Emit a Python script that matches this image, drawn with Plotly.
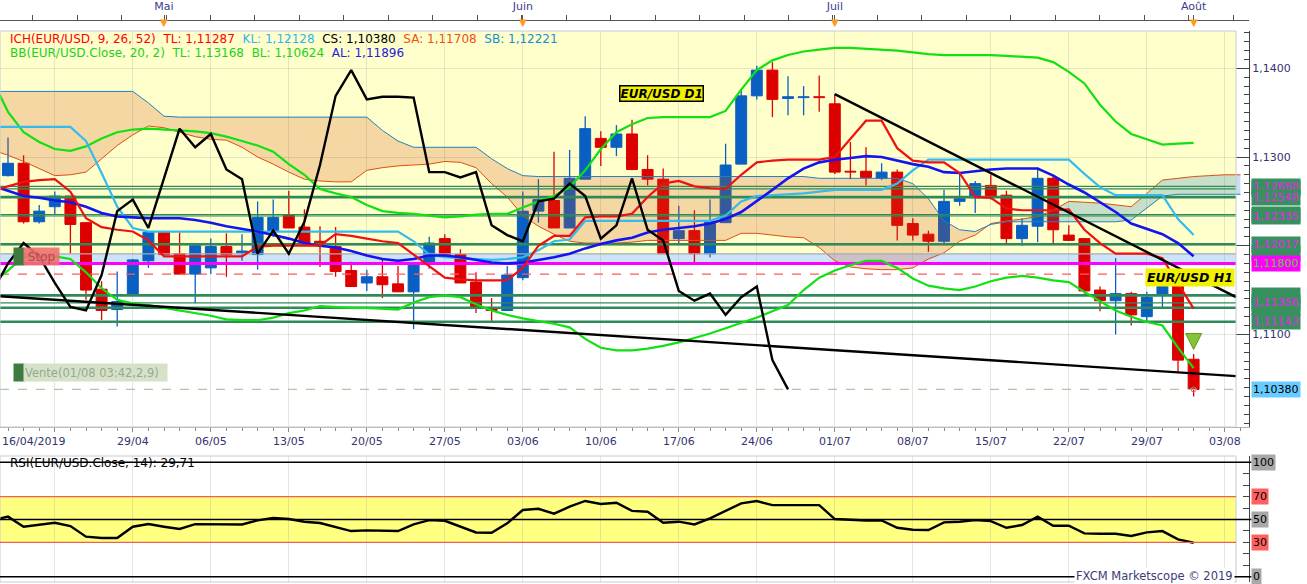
import plotly.graph_objects as go

# ---- data (EUR/USD daily, 17/04/2019 -> 01/08/2019) ----
bar_index = list(range(77))          # trading days, 0 = 17/04
ind_index = list(range(-1, 77))      # indicators start one day left of the first candle
cloud_index = list(range(-1, 80))    # senkou spans run past the last candle

open_ = [
    1.1279, 1.1293, 1.1227, 1.1244, 1.1256, 1.1226, 1.1151, 1.1128, 1.1144, 1.1183,
    1.1215, 1.1191, 1.1168, 1.1175, 1.1199, 1.1192, 1.1190, 1.1216, 1.1234, 1.1221,
    1.1205, 1.1199, 1.1172, 1.1158, 1.1165, 1.1157, 1.1148, 1.1180, 1.1208, 1.1190,
    1.1159, 1.1130, 1.1127, 1.1164, 1.1239, 1.1251, 1.1220, 1.1275, 1.1321, 1.1311,
    1.1326, 1.1286, 1.1275, 1.1208, 1.1217, 1.1191, 1.1226, 1.1292, 1.1369, 1.1398,
    1.1366, 1.1367, 1.1368, 1.1360, 1.1284, 1.1284, 1.1276, 1.1283, 1.1225, 1.1213,
    1.1205, 1.1250, 1.1254, 1.1268, 1.1257, 1.1208, 1.1222, 1.1276, 1.1212, 1.1208,
    1.1150, 1.1138, 1.1146, 1.1120, 1.1144, 1.1154, 1.1072]
high = [
    1.1322, 1.1302, 1.1246, 1.1261, 1.1256, 1.1226, 1.1160, 1.1171, 1.1185, 1.1216,
    1.1216, 1.1215, 1.1201, 1.1208, 1.1214, 1.1213, 1.1250, 1.1252, 1.1262, 1.1241,
    1.1222, 1.1221, 1.1182, 1.1173, 1.1186, 1.1177, 1.1181, 1.1210, 1.1213, 1.1196,
    1.1170, 1.1141, 1.1177, 1.1261, 1.1275, 1.1306, 1.1308, 1.1346, 1.1329, 1.1336,
    1.1342, 1.1302, 1.1287, 1.1245, 1.1240, 1.1252, 1.1315, 1.1376, 1.1403, 1.1407,
    1.1391, 1.1380, 1.1392, 1.1371, 1.1317, 1.1311, 1.1293, 1.1286, 1.1231, 1.1217,
    1.1263, 1.1282, 1.1273, 1.1280, 1.1262, 1.1231, 1.1288, 1.1278, 1.1223, 1.1208,
    1.1154, 1.1186, 1.1148, 1.1148, 1.1163, 1.1158, 1.1078]
low = [
    1.1278, 1.1225, 1.1225, 1.1235, 1.1191, 1.1139, 1.1116, 1.1109, 1.1144, 1.1175,
    1.1190, 1.1168, 1.1135, 1.1168, 1.1165, 1.1183, 1.1173, 1.1210, 1.1220, 1.1203,
    1.1176, 1.1165, 1.1154, 1.1149, 1.1141, 1.1148, 1.1106, 1.1174, 1.1188, 1.1158,
    1.1124, 1.1114, 1.1127, 1.1161, 1.1226, 1.1220, 1.1220, 1.1275, 1.1290, 1.1301,
    1.1285, 1.1268, 1.1191, 1.1203, 1.1181, 1.1187, 1.1226, 1.1292, 1.1365, 1.1345,
    1.1347, 1.1347, 1.1351, 1.1281, 1.1275, 1.1268, 1.1274, 1.1206, 1.1206, 1.1193,
    1.1202, 1.1245, 1.1237, 1.1252, 1.1203, 1.1200, 1.1204, 1.1203, 1.1206, 1.1146,
    1.1126, 1.1100, 1.1110, 1.1115, 1.1131, 1.1058, 1.1030]
close = [
    1.1293, 1.1227, 1.1239, 1.1256, 1.1224, 1.1150, 1.1127, 1.1137, 1.1184, 1.1215,
    1.1190, 1.1168, 1.1200, 1.1199, 1.1190, 1.1194, 1.1232, 1.1232, 1.1220, 1.1203,
    1.1202, 1.1171, 1.1154, 1.1165, 1.1156, 1.1148, 1.1180, 1.1203, 1.1188, 1.1158,
    1.1131, 1.1127, 1.1167, 1.1239, 1.1252, 1.1220, 1.1276, 1.1332, 1.1311, 1.1326,
    1.1286, 1.1275, 1.1191, 1.1217, 1.1191, 1.1227, 1.1291, 1.1369, 1.1398, 1.1365,
    1.1368, 1.1368, 1.1367, 1.1283, 1.1283, 1.1277, 1.1283, 1.1223, 1.1212, 1.1205,
    1.1250, 1.1253, 1.1270, 1.1256, 1.1208, 1.1223, 1.1276, 1.1218, 1.1206, 1.1149,
    1.1138, 1.1146, 1.1122, 1.1142, 1.1154, 1.1071, 1.1038]

tenkan = [
    1.1262, 1.1267, 1.1272, 1.1274, 1.1275, 1.1261, 1.1231, 1.1221, 1.1218, 1.1216,
    1.1206, 1.1188, 1.1188, 1.1188, 1.1188, 1.1188, 1.1188, 1.1199, 1.1200, 1.1200,
    1.1200, 1.1200, 1.1213, 1.1211, 1.1208, 1.1205, 1.1203, 1.1190, 1.1177, 1.1164,
    1.1162, 1.1161, 1.1161, 1.1161, 1.1175, 1.1200, 1.1211, 1.1211, 1.1232, 1.1233,
    1.1233, 1.1236, 1.1255, 1.1270, 1.1273, 1.1267, 1.1265, 1.1264, 1.1280, 1.1294,
    1.1296, 1.1297, 1.1297, 1.1297, 1.1300, 1.1320, 1.1341, 1.1341, 1.1310, 1.1296,
    1.1294, 1.1294, 1.1282, 1.1255, 1.1254, 1.1242, 1.1240, 1.1240, 1.1240, 1.1241,
    1.1218, 1.1203, 1.1191, 1.1191, 1.1191, 1.1186, 1.1158, 1.1129]
kijun = [
    1.1334, 1.1334, 1.1334, 1.1334, 1.1334, 1.1334, 1.1318, 1.1282, 1.1244, 1.1220,
    1.1216, 1.1216, 1.1216, 1.1216, 1.1216, 1.1216, 1.1216, 1.1216, 1.1216, 1.1216,
    1.1216, 1.1216, 1.1216, 1.1216, 1.1216, 1.1216, 1.1216, 1.1205, 1.1190, 1.1187,
    1.1186, 1.1185, 1.1184, 1.1185, 1.1187, 1.1195, 1.1205, 1.1207, 1.1228, 1.1228,
    1.1228, 1.1228, 1.1228, 1.1228, 1.1228, 1.1228, 1.1228, 1.1234, 1.1250, 1.1256,
    1.1257, 1.1258, 1.1259, 1.1261, 1.1263, 1.1263, 1.1263, 1.1263, 1.1270, 1.1285,
    1.1297, 1.1297, 1.1297, 1.1297, 1.1297, 1.1297, 1.1297, 1.1297, 1.1297, 1.1297,
    1.1281, 1.1266, 1.1257, 1.1257, 1.1257, 1.1257, 1.1230, 1.1212]
senkou_a = [
    1.1308, 1.1302, 1.1295, 1.1287, 1.1279, 1.1280, 1.1283, 1.1298, 1.1313, 1.1325,
    1.1335, 1.1333, 1.1328, 1.1323, 1.1320, 1.1319, 1.1311, 1.1300, 1.1292, 1.1283,
    1.1275, 1.1273, 1.1272, 1.1272, 1.1285, 1.1288, 1.1290, 1.1291, 1.1292, 1.1295,
    1.1294, 1.1288, 1.1270, 1.1255, 1.1234, 1.1222, 1.1213, 1.1205, 1.1203, 1.1203,
    1.1203, 1.1204, 1.1206, 1.1206, 1.1206, 1.1206, 1.1206, 1.1206, 1.1214, 1.1214,
    1.1212, 1.1210, 1.1209, 1.1198, 1.1183, 1.1176, 1.1174, 1.1173, 1.1173, 1.1175,
    1.1185, 1.1192, 1.1205, 1.1212, 1.1225, 1.1228, 1.1230, 1.1233, 1.1240, 1.1250,
    1.1249, 1.1248, 1.1246, 1.1244, 1.1259, 1.1274, 1.1276, 1.1278, 1.1279, 1.1280,
    1.1280]
senkou_b = [
    1.1374, 1.1374, 1.1374, 1.1374, 1.1374, 1.1374, 1.1374, 1.1374, 1.1374, 1.1374,
    1.1361, 1.1346, 1.1345, 1.1345, 1.1345, 1.1345, 1.1345, 1.1345, 1.1345, 1.1345,
    1.1345, 1.1345, 1.1345, 1.1345, 1.1345, 1.1330, 1.1318, 1.1311, 1.1311, 1.1311,
    1.1311, 1.1311, 1.1298, 1.1287, 1.1279, 1.1278, 1.1278, 1.1278, 1.1278, 1.1278,
    1.1278, 1.1278, 1.1278, 1.1278, 1.1278, 1.1278, 1.1278, 1.1278, 1.1278, 1.1278,
    1.1278, 1.1278, 1.1278, 1.1276, 1.1276, 1.1276, 1.1276, 1.1276, 1.1276, 1.1270,
    1.1253, 1.1228, 1.1218, 1.1216, 1.1224, 1.1227, 1.1227, 1.1227, 1.1227, 1.1227,
    1.1227, 1.1227, 1.1227, 1.1229, 1.1243, 1.1256, 1.1258, 1.1258, 1.1258, 1.1258,
    1.1258]
bb_upper = [
    1.1387, 1.1351, 1.1328, 1.1317, 1.1309, 1.1307, 1.1312, 1.1321, 1.1328, 1.1331,
    1.1332, 1.1331, 1.1330, 1.1329, 1.1327, 1.1323, 1.1318, 1.1313, 1.1306, 1.1292,
    1.1280, 1.1264, 1.1259, 1.1255, 1.1246, 1.1239, 1.1237, 1.1236, 1.1234, 1.1232,
    1.1233, 1.1235, 1.1236, 1.1236, 1.1243, 1.1250, 1.1256, 1.1266, 1.1285, 1.1309,
    1.1328, 1.1337, 1.1344, 1.1345, 1.1345, 1.1345, 1.1345, 1.1352, 1.1376, 1.1398,
    1.1409, 1.1415, 1.1419, 1.1421, 1.1423, 1.1423, 1.1422, 1.1421, 1.1420, 1.1418,
    1.1416, 1.1415, 1.1415, 1.1415, 1.1415, 1.1414, 1.1413, 1.1412, 1.1407, 1.1396,
    1.1383, 1.1359, 1.1340, 1.1326, 1.1320, 1.1314, 1.1315, 1.1316]
bb_mid = [
    1.1268, 1.1262, 1.1256, 1.1254, 1.1251, 1.1249, 1.1244, 1.1237, 1.1233, 1.1232,
    1.1231, 1.1231, 1.1231, 1.1229, 1.1226, 1.1222, 1.1219, 1.1216, 1.1212, 1.1208,
    1.1203, 1.1200, 1.1198, 1.1194, 1.1189, 1.1185, 1.1183, 1.1185, 1.1189, 1.1189,
    1.1187, 1.1184, 1.1181, 1.1180, 1.1181, 1.1184, 1.1187, 1.1191, 1.1197, 1.1202,
    1.1206, 1.1209, 1.1215, 1.1218, 1.1220, 1.1222, 1.1225, 1.1230, 1.1238, 1.1250,
    1.1263, 1.1276, 1.1287, 1.1294, 1.1297, 1.1299, 1.1301, 1.1300, 1.1296, 1.1292,
    1.1289, 1.1283, 1.1282, 1.1284, 1.1286, 1.1287, 1.1287, 1.1287, 1.1279, 1.1269,
    1.1260, 1.1249, 1.1238, 1.1225, 1.1219, 1.1213, 1.1203, 1.1188]
bb_lower = [
    1.1158, 1.1172, 1.1188, 1.1188, 1.1188, 1.1185, 1.1170, 1.1152, 1.1139, 1.1135,
    1.1133, 1.1130, 1.1127, 1.1124, 1.1121, 1.1117, 1.1116, 1.1116, 1.1119, 1.1124,
    1.1127, 1.1132, 1.1131, 1.1130, 1.1130, 1.1129, 1.1128, 1.1136, 1.1142, 1.1144,
    1.1142, 1.1134, 1.1127, 1.1122, 1.1118, 1.1115, 1.1112, 1.1108, 1.1095, 1.1085,
    1.1082, 1.1082, 1.1084, 1.1087, 1.1091, 1.1096, 1.1101, 1.1107, 1.1113, 1.1119,
    1.1126, 1.1133, 1.1150, 1.1164, 1.1172, 1.1178, 1.1183, 1.1183, 1.1175, 1.1163,
    1.1155, 1.1152, 1.1150, 1.1154, 1.1160, 1.1164, 1.1166, 1.1164, 1.1161, 1.1159,
    1.1148, 1.1137, 1.1127, 1.1120, 1.1114, 1.1110, 1.1085, 1.1062]
rsi = [
    49.5, 52.5, 43.7, 45.2, 47.2, 44.3, 35.0, 33.8, 33.8, 43.7,
    46.0, 43.7, 41.7, 46.0, 46.0, 45.7, 45.7, 49.2, 51.3, 50.4,
    48.1, 46.9, 43.1, 39.9, 40.5, 40.5, 39.9, 45.7, 49.5, 48.9,
    43.7, 38.7, 38.5, 46.7, 58.3, 59.4, 55.1, 61.2, 66.2, 63.6,
    64.7, 57.5, 56.8, 47.2, 48.1, 45.7, 51.0, 57.4, 64.1, 66.1,
    62.6, 62.6, 62.6, 62.6, 50.4, 49.5, 49.2, 49.2, 42.8, 41.1,
    40.8, 47.5, 48.1, 49.5, 48.6, 42.8, 45.2, 52.5, 44.6, 44.6,
    37.9, 37.6, 37.6, 35.6, 38.8, 39.9, 32.7, 29.7]

# support / resistance levels and drawn objects
level_thick = [1.12548, 1.12017, 1.11440, 1.11300, 1.11143]
level_thin = [1.12668, 1.12640, 1.12350, 1.12335, 1.11356]
zone_low, zone_high = 1.11800, 1.11909
stop_level = 1.11680
sell_level = 1.10380
trend_long_x, trend_long_y = [-0.513, 78.72], [1.1143, 1.1053]
trend_short_x, trend_short_y = [53, 78.72], [1.1371, 1.1142]
signal_index, signal_price = 76, 1.1083

hidden_labels = [1.12640, 1.12350, 1.11909, 1.11440, 1.11300]
shown_labels = [1.12668, 1.12548, 1.12335, 1.12017, 1.11356, 1.11143]

week_ticks = [3, 8, 13, 18, 23, 28, 33, 38, 43, 48, 53, 58, 63, 68, 73, 78]
week_labels = ["", "29/04", "06/05", "13/05", "20/05", "27/05", "03/06", "10/06",
               "17/06", "24/06", "01/07", "08/07", "15/07", "22/07", "29/07", "03/08"]
month_ticks = [10, 33, 53, 76]
month_labels = ["Mai", "Juin", "Juil", "Août"]
price_ticks = [1.11, 1.12, 1.13, 1.14]
price_labels = ["1,1100", "", "1,1300", "1,1400"]   # 1,1200 sits under the level tags
rsi_levels = [100, 70, 50, 30, 0]

# ---- layout constants ----
W, H = 1307, 584
PLOT_W = 1249
PANEL_W = 1236
X_RANGE = [-0.513, 79.55]
PANEL_EDGE = 78.72
PRICE_RANGE = [1.09956, 1.14421]
RSI_RANGE = [-4.6, 105.5]
MAIN_DOMAIN = [1 - 427 / H, 1 - 31 / H]
RSI_DOMAIN = [1 - 582 / H, 1 - 456 / H]

BLUE = "#0A5FC2"
RED = "#DD0000"
LEVEL = "#2E8B57"
GRID = "rgba(150,150,150,0.25)"
AXIS_TEXT = "#33336E"


def px_x(px):
    return px / PLOT_W


def px_y(py):
    return 1 - py / H


def price_text(value):
    return f"{value:.5f}".replace(".", ",")


def add_line(fig, x, y, color, width, dash=None, xaxis="x", yaxis="y"):
    fig.add_trace(go.Scatter(
        x=x, y=y, mode="lines", xaxis=xaxis, yaxis=yaxis, hoverinfo="skip",
        line=dict(color=color, width=width, dash=dash)))


def cloud_pieces(xs, a, b):
    # insert crossing points, then split into runs where a is above / below b
    px, pa, pb = [xs[0]], [a[0]], [b[0]]
    for i in range(1, len(xs)):
        d0, d1 = a[i - 1] - b[i - 1], a[i] - b[i]
        if d0 * d1 < 0:
            t = d0 / (d0 - d1)
            yc = a[i - 1] + t * (a[i] - a[i - 1])
            px.append(xs[i - 1] + t * (xs[i] - xs[i - 1]))
            pa.append(yc)
            pb.append(yc)
        px.append(xs[i])
        pa.append(a[i])
        pb.append(b[i])

    def above(j):
        return (pa[j] + pa[j + 1]) >= (pb[j] + pb[j + 1])

    runs, start, cur = [], 0, above(0)
    for j in range(1, len(px) - 1):
        if above(j) != cur:
            runs.append((cur, start, j))
            start, cur = j, above(j)
    runs.append((cur, start, len(px) - 1))
    return [(up, px[s:e + 1], pa[s:e + 1], pb[s:e + 1]) for up, s, e in runs]


def add_candles(fig):
    rising = [c >= o for o, c in zip(open_, close)]
    for is_up, color in ((True, BLUE), (False, RED)):
        ids = [i for i in bar_index if rising[i] == is_up]
        wx, wy = [], []
        for i in ids:
            wx += [i, i, None]
            wy += [low[i], high[i], None]
        add_line(fig, wx, wy, color, 1.3)
        fig.add_trace(go.Bar(
            x=ids, y=[abs(close[i] - open_[i]) for i in ids],
            base=[min(open_[i], close[i]) for i in ids], width=0.7,
            marker=dict(color=color, line=dict(color=color, width=1)),
            hoverinfo="skip"))


def add_cloud(fig):
    for up, xs, a, b in cloud_pieces(cloud_index, senkou_a, senkou_b):
        fig.add_trace(go.Scatter(
            x=xs + xs[::-1], y=a + b[::-1], mode="lines", fill="toself",
            fillcolor="rgba(0,110,185,0.22)" if up else "rgba(208,73,21,0.22)",
            line=dict(width=0), hoverinfo="skip"))
    add_line(fig, cloud_index, senkou_a, "#E04E10", 1)
    add_line(fig, cloud_index, senkou_b, "#2080C0", 1)


def add_levels(fig):
    span = [X_RANGE[0], PANEL_EDGE]
    for lv in level_thin:
        add_line(fig, span, [lv, lv], LEVEL, 1.2)
    for lv in level_thick:
        add_line(fig, span, [lv, lv], LEVEL, 2.6)
    add_line(fig, span, [zone_high, zone_high], "#A4ACB4", 1.2)
    add_line(fig, span, [zone_low, zone_low], "#FF00FF", 3)
    add_line(fig, span, [stop_level, stop_level], "#FF5A5A", 1.2, dash="dash")
    add_line(fig, span, [sell_level, sell_level], "#A8CCA0", 1.2, dash="dash")


def add_indicators(fig):
    add_line(fig, ind_index, bb_upper, "#11E011", 2.2)
    add_line(fig, ind_index, bb_lower, "#11E011", 2.2)
    add_line(fig, ind_index, kijun, "#33BBEE", 2.2)
    add_line(fig, ind_index, bb_mid, "#1414F0", 2.6)
    add_line(fig, ind_index, tenkan, "#EE1111", 2.2)
    # chikou span: closes plotted 26 sessions back
    add_line(fig, [i - 26 for i in range(25, 77)], close[25:77], "#000000", 2.4)
    add_line(fig, trend_long_x, trend_long_y, "#000000", 2.4)
    add_line(fig, trend_short_x, trend_short_y, "#000000", 2.4)
    fig.add_trace(go.Scatter(
        x=[signal_index], y=[signal_price], mode="markers", hoverinfo="skip",
        marker=dict(symbol="arrow-down", size=16, color="#86C23A",
                    line=dict(color="#5E9A22", width=1))))
    fig.add_trace(go.Scatter(
        x=[bar_index[-1]], y=[sell_level], mode="markers", hoverinfo="skip",
        marker=dict(symbol="circle-open", size=5, color="#D07070")))


def add_rsi(fig):
    add_line(fig, ind_index, rsi, "#000000", 2.4, xaxis="x2", yaxis="y2")


def build_shapes():
    shapes = [
        dict(type="rect", xref="paper", yref="y", x0=0, x1=px_x(PANEL_W),
             y0=zone_high, y1=PRICE_RANGE[1], fillcolor="#FFFFCC",
             line=dict(width=0), layer="below"),
        dict(type="rect", xref="paper", yref="y", x0=0, x1=px_x(PANEL_W),
             y0=zone_low, y1=zone_high, fillcolor="#CCE3FA",
             line=dict(width=0), layer="below"),
        dict(type="rect", xref="paper", yref="y2", x0=0, x1=px_x(PANEL_W),
             y0=30, y1=70, fillcolor="#FFFF80", line=dict(width=0), layer="below"),
        dict(type="rect", xref="paper", yref="paper", x0=0, x1=px_x(PANEL_W),
             y0=MAIN_DOMAIN[0], y1=MAIN_DOMAIN[1],
             line=dict(color="#C4CCD6", width=1)),
        dict(type="rect", xref="paper", yref="paper", x0=0, x1=px_x(PANEL_W),
             y0=RSI_DOMAIN[0], y1=RSI_DOMAIN[1],
             line=dict(color="#C4CCD6", width=1)),
    ]
    for lv in (30, 70):
        shapes.append(dict(type="line", xref="paper", yref="y2", x0=0,
                           x1=px_x(PANEL_W), y0=lv, y1=lv,
                           line=dict(color="#F06050", width=1.2)))
    for lv in (0, 50, 100):
        shapes.append(dict(type="line", xref="paper", yref="y2", x0=0, x1=1.002,
                           y0=lv, y1=lv, line=dict(color="#000000", width=1.4)))
    return shapes


def build_annotations():
    ich = ("<span style='color:#FF0000'>ICH(EUR/USD, 9, 26, 52)&nbsp;&nbsp;TL: 1,11287</span>"
           "&nbsp;&nbsp;<span style='color:#33B5F0'>KL: 1,12128</span>"
           "&nbsp;&nbsp;<span style='color:#000000'>CS: 1,10380</span>"
           "&nbsp;&nbsp;<span style='color:#F05010'>SA: 1,11708</span>"
           "&nbsp;&nbsp;<span style='color:#1A8FD0'>SB: 1,12221</span>")
    bb = ("<span style='color:#22D022'>BB(EUR/USD.Close, 20, 2)&nbsp;&nbsp;TL: 1,13168"
          "&nbsp;&nbsp;BL: 1,10624</span>"
          "&nbsp;&nbsp;<span style='color:#2222DD'>AL: 1,11896</span>")
    notes = [
        dict(text=ich, x=px_x(8), y=px_y(38.5)),
        dict(text=bb, x=px_x(8), y=px_y(52.5)),
        dict(text="RSI(EUR/USD.Close, 14): 29,71", x=px_x(8), y=px_y(463),
             font=dict(color="#000000", size=12)),
        dict(text="16/04/2019", x=0, y=px_y(441), font=dict(size=11, color=AXIS_TEXT)),
        # stop and sell tags
        dict(text=" ", x=px_x(13), y=px_y(257), width=8, height=15, bgcolor="#3E7B3E"),
        dict(text="Stop", x=px_x(23), y=px_y(257), width=33, height=15,
             bgcolor="rgba(240,112,112,0.9)", font=dict(color="#B84848", size=12)),
        dict(text=" ", x=px_x(13), y=px_y(372), width=8, height=15, bgcolor="#3E7B3E"),
        dict(text="Vente(01/08 03:42,2,9)", x=px_x(23), y=px_y(372), width=141,
             height=15, align="left", bgcolor="#D5E2C8",
             font=dict(color="#98A890", size=11.5)),
        dict(text="<b><i>EUR/USD D1</i></b>", xref="x", yref="y", x=41.9, y=1.13716,
             xanchor="center", bgcolor="#F0F000", bordercolor="#000000", borderwidth=1.5,
             borderpad=0, font=dict(color="#000000", size=12)),
        dict(text="<b><i>EUR/USD H1</i></b>", yref="y", x=px_x(1235), y=1.11641,
             xanchor="right", bgcolor="#F2F200", borderpad=1,
             font=dict(color="#000000", size=12.5)),
        dict(text="FXCM Marketscope © 2019", x=px_x(1235), y=px_y(576), xanchor="right",
             bgcolor="#FFFFFF", font=dict(color="#3C3C78", size=11.5)),
    ]
    for m in month_ticks:
        notes.append(dict(text="▼", xref="x", x=m, y=px_y(23), xanchor="center",
                          font=dict(color="#FF9A1A", size=10)))
    # price tags on the right axis; hidden ones only show as green filler
    for lv in hidden_labels:
        notes.append(dict(text="&nbsp;", yref="y", x=px_x(1251), y=lv, width=46,
                          height=13, bgcolor="#37905E"))
    for lv in shown_labels:
        notes.append(dict(text=price_text(lv), yref="y", x=px_x(1251), y=lv,
                          bgcolor="#37905E", font=dict(color="#EE22EE", size=11)))
    notes.append(dict(text=price_text(zone_low), yref="y", x=px_x(1251), y=zone_low,
                      bgcolor="#FF00FF", font=dict(color="#44DD22", size=11)))
    notes.append(dict(text=price_text(sell_level), yref="y", x=px_x(1251), y=sell_level,
                      bgcolor="#66CCFF", font=dict(color="#000000", size=11)))
    for lv in rsi_levels:
        notes.append(dict(text=str(lv), yref="y2", x=px_x(1251), y=lv,
                          bgcolor="#FF6060" if lv in (30, 70) else "#A8A8A8",
                          font=dict(color="#000000", size=11)))
    out = []
    for n in notes:
        base = dict(xref="paper", yref="paper", xanchor="left", yanchor="middle",
                    showarrow=False, borderpad=1, font=dict(size=12))
        base.update(n)
        out.append(base)
    return out


def main():
    fig = go.Figure()
    add_candles(fig)
    add_cloud(fig)
    add_levels(fig)
    add_indicators(fig)
    add_rsi(fig)
    # keeps the top month ruler alive
    fig.add_trace(go.Scatter(x=[month_ticks[0]], y=[None], xaxis="x3", yaxis="y",
                             mode="markers", hoverinfo="skip"))

    fig.update_layout(
        width=W, height=H,
        margin=dict(l=0, r=W - PLOT_W, t=0, b=0, autoexpand=False),
        paper_bgcolor="white", plot_bgcolor="white",
        showlegend=False, barmode="overlay", hovermode=False,
        font=dict(family="DejaVu Sans", size=11, color=AXIS_TEXT),
        xaxis=dict(
            domain=[0, 1], anchor="y", range=X_RANGE, tickmode="array",
            tickvals=week_ticks, ticktext=week_labels, ticks="outside", ticklen=4,
            tickcolor="#8A8A8A", showline=True, linecolor="#A8B0B8",
            showgrid=True, gridcolor=GRID, zeroline=False,
            tickfont=dict(size=11, color=AXIS_TEXT),
            minor=dict(ticks="outside", ticklen=3, dtick=1, tick0=0,
                       tickcolor="#8A8A8A", showgrid=False)),
        yaxis=dict(
            domain=MAIN_DOMAIN, anchor="x", side="right", range=PRICE_RANGE,
            tickmode="array", tickvals=price_ticks, ticktext=price_labels,
            ticks="inside", ticklen=13, tickcolor="#444444",
            showline=True, linecolor="#444444", showgrid=True, gridcolor=GRID,
            zeroline=False, tickfont=dict(size=11, color=AXIS_TEXT),
            minor=dict(ticks="inside", ticklen=5, dtick=0.001, tick0=1.10,
                       tickcolor="#444444", showgrid=False)),
        xaxis2=dict(
            domain=[0, 1], anchor="y2", range=X_RANGE, tickmode="array",
            tickvals=week_ticks, showticklabels=False, ticks="",
            showgrid=True, gridcolor=GRID, zeroline=False, showline=False),
        yaxis2=dict(
            domain=RSI_DOMAIN, anchor="x2", side="right", range=RSI_RANGE,
            tickmode="linear", tick0=0, dtick=10, ticks="inside", ticklen=6,
            tickcolor="#444444", showticklabels=False, showline=True,
            linecolor="#444444", showgrid=False, zeroline=False),
        xaxis3=dict(
            overlaying="x", anchor="free", position=px_y(19.5), side="top",
            range=X_RANGE, tickmode="array", tickvals=month_ticks,
            ticktext=month_labels, ticks="outside", ticklen=5, tickcolor="#555555",
            showline=True, linecolor="#555555", showgrid=False, zeroline=False,
            tickfont=dict(size=11, color="#3C3C8C"),
            minor=dict(ticks="outside", ticklen=5, dtick=2.85, tick0=10.13,
                       tickcolor="#555555")),
        shapes=build_shapes(),
        annotations=build_annotations(),
    )
    # the page has a default 8px body margin; drop it so the chart sits at 0,0
    fig.write_html("out.html", config={"displayModeBar": False},
                   post_script="document.body.style.margin='0px';")


if __name__ == "__main__":
    main()
